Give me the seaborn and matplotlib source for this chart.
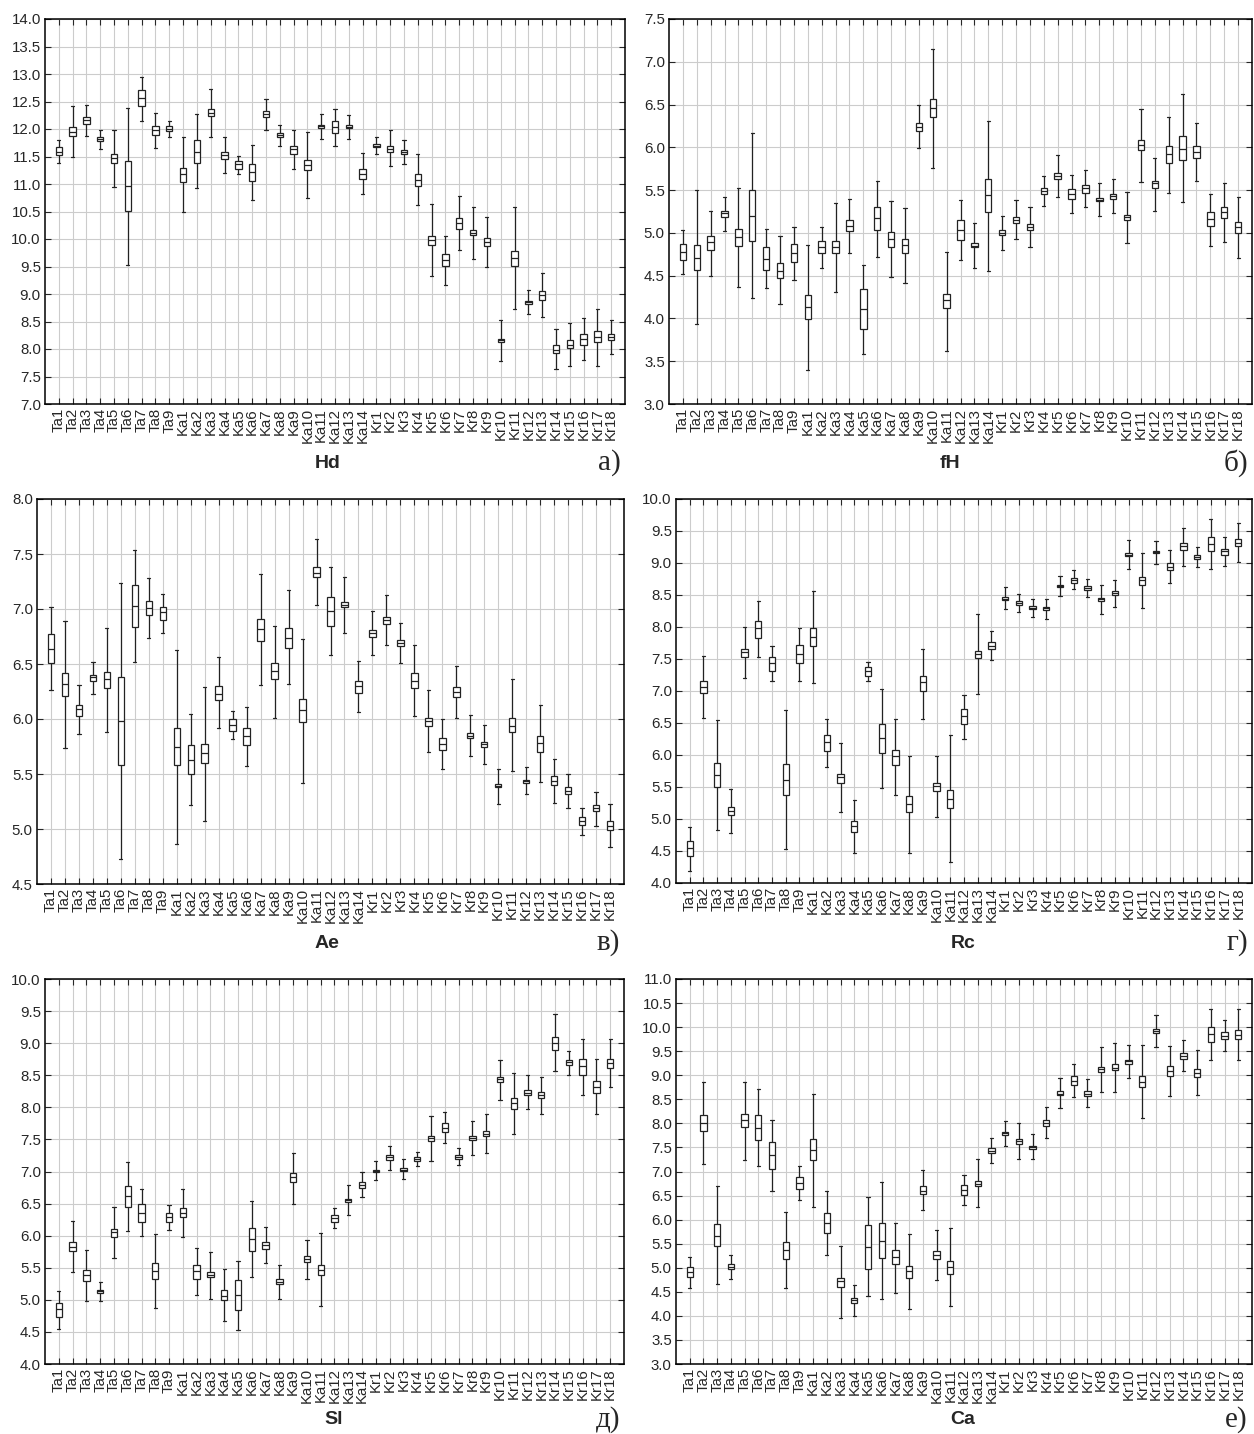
import pandas as pd
import matplotlib.pyplot as plt
import seaborn as sns
from matplotlib.ticker import FormatStrFormatter, MultipleLocator

# --------------------
# categories
# --------------------
sites = ([f"Ta{i}" for i in range(1, 10)] + [f"Ka{i}" for i in range(1, 15)]
         + [f"Kr{i}" for i in range(1, 19)])

# --------------------
# Hd  (whisker low, box low, median, box high, whisker high)
# --------------------
hd_lo = [11.38, 11.50, 11.87, 11.64, 10.95, 9.53, 12.15, 11.65, 11.85,
         10.50, 10.92, 11.86, 11.20, 11.19, 10.71, 11.99, 11.70, 11.27, 10.75, 11.82, 11.70, 11.82, 10.81,
         11.54, 11.32, 11.36, 10.61, 9.32, 9.17, 9.80, 9.64, 9.49, 7.79, 8.73, 8.63, 8.58, 7.63, 7.69, 7.80, 7.70, 7.91]
hd_q1 = [11.52, 11.87, 12.09, 11.78, 11.38, 10.51, 12.41, 11.90, 11.96,
         11.04, 11.38, 12.24, 11.46, 11.28, 11.05, 12.22, 11.85, 11.55, 11.25, 12.02, 11.92, 12.02, 11.10,
         11.68, 11.59, 11.55, 10.97, 9.90, 9.51, 10.19, 10.07, 9.88, 8.12, 9.51, 8.82, 8.89, 7.92, 8.01, 8.07, 8.12, 8.16]
hd_med = [11.59, 11.95, 12.16, 11.82, 11.47, 10.96, 12.56, 11.99, 12.00,
          11.18, 11.59, 12.29, 11.53, 11.36, 11.21, 12.28, 11.89, 11.63, 11.35, 12.05, 12.04, 12.04, 11.19,
          11.70, 11.64, 11.58, 11.07, 9.98, 9.62, 10.30, 10.11, 9.95, 8.16, 9.65, 8.85, 8.98, 7.99, 8.08, 8.18, 8.21, 8.21]
hd_q3 = [11.67, 12.04, 12.21, 11.86, 11.55, 11.41, 12.71, 12.05, 12.05,
         11.30, 11.80, 12.36, 11.59, 11.41, 11.36, 12.33, 11.92, 11.70, 11.43, 12.08, 12.15, 12.07, 11.27,
         11.73, 11.70, 11.62, 11.18, 10.05, 9.72, 10.39, 10.16, 10.01, 8.19, 9.78, 8.88, 9.06, 8.07, 8.16, 8.28, 8.32, 8.27]
hd_hi = [11.80, 12.41, 12.43, 11.99, 11.98, 12.39, 12.95, 12.30, 12.15,
         11.85, 12.27, 12.73, 11.86, 11.51, 11.71, 12.55, 12.08, 11.98, 11.94, 12.28, 12.37, 12.25, 11.56,
         11.86, 11.98, 11.80, 11.54, 10.64, 10.05, 10.79, 10.58, 10.40, 8.53, 10.58, 9.08, 9.38, 8.36, 8.48, 8.56, 8.72, 8.52]

# --------------------
# fH
# --------------------
fh_lo = [4.52, 3.94, 4.50, 5.02, 4.37, 4.24, 4.36, 4.17, 4.45,
         3.40, 4.59, 4.31, 4.76, 3.59, 4.72, 4.48, 4.42, 5.99, 5.76, 3.62, 4.68, 4.59, 4.55,
         4.80, 4.93, 4.84, 5.31, 5.42, 5.23, 5.30, 5.20, 5.23, 4.88, 5.60, 5.26, 5.47, 5.36, 5.61, 4.85, 4.89, 4.71]
fh_q1 = [4.68, 4.57, 4.80, 5.18, 4.85, 4.90, 4.57, 4.47, 4.66,
         3.99, 4.76, 4.76, 5.02, 3.88, 5.03, 4.84, 4.77, 6.19, 6.35, 4.12, 4.92, 4.83, 5.24,
         4.98, 5.12, 5.03, 5.45, 5.63, 5.40, 5.47, 5.37, 5.40, 5.15, 5.97, 5.53, 5.82, 5.85, 5.88, 5.08, 5.17, 5.00]
fh_med = [4.78, 4.71, 4.89, 5.23, 4.95, 5.20, 4.70, 4.56, 4.77,
          4.13, 4.84, 4.83, 5.08, 4.11, 5.17, 4.93, 4.86, 6.24, 6.46, 4.21, 5.03, 4.85, 5.44,
          5.00, 5.15, 5.07, 5.49, 5.67, 5.46, 5.52, 5.39, 5.43, 5.18, 6.03, 5.58, 5.92, 5.98, 5.95, 5.16, 5.24, 5.07]
fh_q3 = [4.87, 4.86, 4.96, 5.26, 5.05, 5.50, 4.83, 4.65, 4.87,
         4.27, 4.91, 4.90, 5.15, 4.34, 5.30, 5.01, 4.93, 6.29, 6.57, 4.29, 5.15, 4.88, 5.63,
         5.03, 5.19, 5.10, 5.53, 5.70, 5.51, 5.56, 5.41, 5.46, 5.21, 6.09, 5.61, 6.01, 6.13, 6.02, 5.24, 5.30, 5.13]
fh_hi = [5.03, 5.50, 5.26, 5.42, 5.53, 6.17, 5.05, 4.96, 5.07,
         4.86, 5.07, 5.35, 5.40, 4.62, 5.61, 5.37, 5.29, 6.49, 7.15, 4.78, 5.39, 5.12, 6.31,
         5.20, 5.38, 5.30, 5.67, 5.91, 5.68, 5.74, 5.58, 5.63, 5.48, 6.45, 5.88, 6.35, 6.62, 6.28, 5.45, 5.58, 5.42]

# --------------------
# Ae
# --------------------
ae_lo = [6.26, 5.74, 5.86, 6.23, 5.88, 4.73, 6.52, 6.74, 6.78,
         4.86, 5.22, 5.07, 5.92, 5.82, 5.57, 6.31, 6.01, 6.32, 5.42, 7.04, 6.58, 6.78, 6.06,
         6.58, 6.67, 6.51, 6.03, 5.70, 5.55, 6.01, 5.66, 5.59, 5.23, 5.53, 5.32, 5.43, 5.24, 5.19, 4.95, 5.03, 4.84]
ae_q1 = [6.51, 6.21, 6.03, 6.35, 6.28, 5.58, 6.84, 6.95, 6.90,
         5.58, 5.50, 5.60, 6.17, 5.89, 5.76, 6.71, 6.36, 6.65, 5.97, 7.29, 6.85, 7.02, 6.24,
         6.75, 6.86, 6.66, 6.28, 5.94, 5.72, 6.20, 5.83, 5.75, 5.38, 5.88, 5.42, 5.70, 5.40, 5.32, 5.04, 5.16, 4.99]
ae_med = [6.64, 6.32, 6.09, 6.38, 6.36, 5.98, 7.03, 7.01, 6.97,
          5.75, 5.63, 5.69, 6.23, 5.95, 5.85, 6.82, 6.44, 6.74, 6.08, 7.33, 6.98, 7.04, 6.30,
          6.78, 6.90, 6.69, 6.35, 5.98, 5.77, 6.25, 5.85, 5.77, 5.39, 5.94, 5.44, 5.78, 5.44, 5.35, 5.07, 5.19, 5.03]
ae_q3 = [6.77, 6.42, 6.13, 6.40, 6.43, 6.38, 7.22, 7.07, 7.02,
         5.92, 5.76, 5.77, 6.30, 6.00, 5.92, 6.91, 6.51, 6.83, 6.18, 7.38, 7.11, 7.06, 6.35,
         6.81, 6.93, 6.72, 6.42, 6.01, 5.83, 6.29, 5.87, 5.79, 5.41, 6.01, 5.45, 5.85, 5.48, 5.38, 5.11, 5.22, 5.07]
ae_hi = [7.02, 6.89, 6.31, 6.52, 6.83, 7.24, 7.54, 7.28, 7.14,
         6.63, 6.05, 6.29, 6.56, 6.07, 6.11, 7.32, 6.85, 7.17, 6.73, 7.64, 7.38, 7.29, 6.53,
         6.98, 7.13, 6.87, 6.67, 6.26, 6.00, 6.48, 6.04, 5.95, 5.55, 6.36, 5.56, 6.13, 5.64, 5.50, 5.19, 5.34, 5.23]

# --------------------
# Rc
# --------------------
rc_lo = [4.19, 6.58, 4.83, 4.78, 7.21, 7.53, 7.15, 4.53, 7.16,
         7.12, 5.81, 5.11, 4.47, 7.16, 5.48, 5.38, 4.47, 6.57, 5.03, 4.33, 6.25, 6.96, 7.48,
         8.28, 8.23, 8.16, 8.13, 8.48, 8.59, 8.47, 8.20, 8.31, 8.90, 8.29, 8.98, 8.68, 8.96, 8.94, 8.90, 8.95, 9.01]
rc_q1 = [4.42, 6.97, 5.50, 5.06, 7.53, 7.83, 7.32, 5.37, 7.43,
         7.71, 6.07, 5.57, 4.80, 7.24, 6.03, 5.85, 5.11, 7.00, 5.43, 5.17, 6.48, 7.52, 7.66,
         8.42, 8.35, 8.28, 8.26, 8.62, 8.69, 8.58, 8.40, 8.50, 9.11, 8.65, 9.15, 8.89, 9.20, 9.07, 9.19, 9.13, 9.27]
rc_med = [4.55, 7.06, 5.69, 5.13, 7.61, 7.98, 7.43, 5.61, 7.58,
          7.85, 6.20, 5.66, 4.89, 7.31, 6.26, 5.99, 5.23, 7.14, 5.51, 5.31, 6.61, 7.58, 7.71,
          8.44, 8.38, 8.30, 8.29, 8.64, 8.74, 8.61, 8.43, 8.53, 9.13, 8.73, 9.17, 8.94, 9.26, 9.10, 9.30, 9.18, 9.32]
rc_q3 = [4.66, 7.15, 5.87, 5.19, 7.66, 8.10, 7.53, 5.86, 7.72,
         7.98, 6.31, 5.71, 4.97, 7.37, 6.49, 6.08, 5.36, 7.23, 5.57, 5.46, 6.72, 7.63, 7.76,
         8.47, 8.40, 8.33, 8.32, 8.66, 8.77, 8.64, 8.45, 8.56, 9.15, 8.78, 9.19, 9.00, 9.32, 9.13, 9.41, 9.22, 9.37]
rc_hi = [4.88, 7.54, 6.54, 5.47, 8.00, 8.40, 7.70, 6.70, 7.98,
         8.56, 6.56, 6.18, 5.30, 7.45, 7.03, 6.56, 5.99, 7.66, 5.98, 6.31, 6.94, 8.20, 7.93,
         8.62, 8.52, 8.44, 8.44, 8.80, 8.89, 8.75, 8.66, 8.74, 9.36, 9.15, 9.35, 9.20, 9.54, 9.25, 9.69, 9.40, 9.63]

# --------------------
# Sl
# --------------------
sl_lo = [4.54, 5.44, 4.98, 4.98, 5.65, 6.08, 5.99, 4.87, 6.09,
         5.98, 5.08, 5.02, 4.67, 4.53, 5.35, 5.57, 5.02, 6.50, 5.32, 4.90, 6.12, 6.32, 6.60,
         6.87, 7.03, 6.89, 7.09, 7.17, 7.44, 7.10, 7.25, 7.29, 8.12, 7.58, 7.97, 7.90, 8.57, 8.50, 8.19, 7.90, 8.32]
sl_q1 = [4.73, 5.76, 5.29, 5.10, 5.98, 6.45, 6.22, 5.32, 6.22,
         6.29, 5.33, 5.35, 4.99, 4.84, 5.76, 5.80, 5.24, 6.83, 5.59, 5.39, 6.22, 6.53, 6.75,
         6.99, 7.18, 7.01, 7.17, 7.48, 7.62, 7.20, 7.49, 7.55, 8.40, 7.98, 8.20, 8.14, 8.90, 8.66, 8.50, 8.23, 8.62]
sl_med = [4.85, 5.83, 5.39, 5.13, 6.05, 6.62, 6.36, 5.45, 6.29,
          6.36, 5.45, 5.39, 5.06, 5.07, 5.95, 5.85, 5.28, 6.91, 5.64, 5.47, 6.27, 6.55, 6.79,
          7.01, 7.22, 7.03, 7.19, 7.52, 7.68, 7.23, 7.52, 7.59, 8.44, 8.06, 8.23, 8.19, 9.00, 8.70, 8.64, 8.32, 8.69]
sl_q3 = [4.95, 5.90, 5.47, 5.16, 6.11, 6.78, 6.49, 5.57, 6.36,
         6.43, 5.55, 5.43, 5.15, 5.31, 6.12, 5.90, 5.32, 6.98, 5.68, 5.55, 6.32, 6.57, 6.83,
         7.03, 7.25, 7.06, 7.22, 7.56, 7.75, 7.26, 7.55, 7.63, 8.47, 8.14, 8.27, 8.24, 9.10, 8.73, 8.75, 8.41, 8.76]
sl_hi = [5.14, 6.23, 5.78, 5.28, 6.44, 7.15, 6.72, 6.03, 6.48,
         6.73, 5.81, 5.75, 5.48, 5.61, 6.54, 6.13, 5.54, 7.29, 5.94, 6.04, 6.43, 6.79, 6.99,
         7.16, 7.39, 7.19, 7.30, 7.87, 7.92, 7.37, 7.78, 7.89, 8.74, 8.54, 8.50, 8.48, 9.45, 8.88, 9.06, 8.75, 9.07]

# --------------------
# Ca
# --------------------
ca_lo = [4.58, 7.16, 4.66, 4.77, 7.24, 7.11, 6.60, 4.57, 6.41,
         6.27, 5.27, 3.96, 4.00, 4.41, 4.35, 4.48, 4.14, 6.20, 4.74, 4.21, 6.30, 6.26, 7.18,
         7.53, 7.25, 7.25, 7.70, 8.31, 8.54, 8.33, 8.66, 8.66, 8.95, 8.11, 9.58, 8.57, 9.09, 8.58, 9.32, 9.50, 9.32]
ca_q1 = [4.80, 7.85, 5.45, 4.97, 7.92, 7.66, 7.06, 5.19, 6.64,
         7.23, 5.72, 4.60, 4.26, 4.97, 5.20, 5.08, 4.79, 6.53, 5.19, 4.88, 6.52, 6.70, 7.38,
         7.75, 7.57, 7.47, 7.95, 8.59, 8.79, 8.56, 9.07, 9.10, 9.24, 8.76, 9.87, 8.98, 9.34, 8.96, 9.70, 9.76, 9.75]
ca_med = [4.92, 8.01, 5.67, 5.02, 8.06, 7.91, 7.34, 5.37, 6.76,
          7.45, 5.93, 4.72, 4.32, 5.44, 5.56, 5.22, 4.93, 6.60, 5.27, 5.01, 6.62, 6.75, 7.43,
          7.79, 7.63, 7.51, 8.01, 8.62, 8.89, 8.62, 9.12, 9.16, 9.29, 8.87, 9.92, 9.09, 9.41, 9.05, 9.85, 9.82, 9.84]
ca_q3 = [5.02, 8.17, 5.90, 5.07, 8.20, 8.17, 7.62, 5.54, 6.88,
         7.67, 6.13, 4.79, 4.37, 5.88, 5.92, 5.36, 5.04, 6.70, 5.34, 5.13, 6.71, 6.80, 7.49,
         7.82, 7.68, 7.54, 8.07, 8.67, 8.98, 8.68, 9.17, 9.23, 9.32, 8.98, 9.96, 9.19, 9.47, 9.14, 10.00, 9.89, 9.94]
ca_hi = [5.23, 8.86, 6.69, 5.26, 8.87, 8.72, 8.08, 6.16, 7.11,
         8.62, 6.59, 5.45, 4.64, 6.46, 6.78, 5.94, 5.70, 7.03, 5.79, 5.82, 6.93, 7.25, 7.70,
         8.04, 8.00, 7.77, 8.33, 8.94, 9.24, 8.92, 9.58, 9.66, 9.62, 9.62, 10.25, 9.60, 9.73, 9.52, 10.38, 10.14, 10.38]


def long_frame(lo, q1, med, q3, hi):
    # five points per site give exactly these quartiles and whisker ends
    rows = []
    for s, vals in zip(sites, zip(lo, q1, med, q3, hi)):
        for v in vals:
            rows.append((s, v))
    return pd.DataFrame(rows, columns=["site", "value"])


sns.set_style("whitegrid", {"grid.color": "#cccccc", "axes.edgecolor": "black"})
plt.rcParams["font.family"] = ["Liberation Sans", "DejaVu Sans"]

fig = plt.figure(figsize=(12.54, 14.34), dpi=100)
W, H = 1254, 1434

# name, letter, data, y range, axes box in px (left, top, right, bottom), name x, label y
panels = [
    ("Hd", "а)", (hd_lo, hd_q1, hd_med, hd_q3, hd_hi), (7.0, 14.0), (45, 19, 625, 404), 328, 463),
    ("fH", "б)", (fh_lo, fh_q1, fh_med, fh_q3, fh_hi), (3.0, 7.5), (669, 19, 1252, 404), 950, 463),
    ("Ae", "в)", (ae_lo, ae_q1, ae_med, ae_q3, ae_hi), (4.5, 8.0), (37, 499, 624, 884), 327, 943),
    ("Rc", "г)", (rc_lo, rc_q1, rc_med, rc_q3, rc_hi), (4.0, 10.0), (676, 499, 1252, 883), 963, 943),
    ("Sl", "д)", (sl_lo, sl_q1, sl_med, sl_q3, sl_hi), (4.0, 10.0), (45, 979, 624, 1364), 334, 1420),
    ("Ca", "е)", (ca_lo, ca_q1, ca_med, ca_q3, ca_hi), (3.0, 11.0), (676, 979, 1252, 1364), 963, 1420),
]

for name, letter, stats, ylim, box, name_x, label_y in panels:
    l, t, r, b = box
    ax = fig.add_axes([l / W, 1 - b / H, (r - l) / W, (b - t) / H])
    df = long_frame(*stats)
    sns.boxplot(data=df, x="site", y="value", order=sites, ax=ax,
                whis=(0, 100), width=0.46, color="white", linecolor="#222222",
                linewidth=0.9, fliersize=0)
    ax.set_xlim(-1, len(sites))
    ax.set_ylim(*ylim)
    ax.yaxis.set_major_locator(MultipleLocator(0.5))
    ax.yaxis.set_major_formatter(FormatStrFormatter("%.1f"))
    ax.set_xlabel("")
    ax.set_ylabel("")
    ax.grid(True, color="#cccccc", linewidth=0.8)
    ax.tick_params(axis="x", labelrotation=90, labelsize=10.8, direction="in",
                   length=4, top=True, bottom=True, pad=3)
    ax.tick_params(axis="y", labelsize=10.8, direction="in", length=4,
                   left=True, right=True, pad=3)
    for sp in ax.spines.values():
        sp.set_color("black")
        sp.set_linewidth(1.1)
    fig.text(name_x / W, 1 - label_y / H, name, ha="center", va="center",
             fontsize=14, fontweight="bold")
    fig.text((r - 4) / W, 1 - label_y / H, letter, ha="right", va="center",
             fontsize=21, family=["Liberation Serif", "DejaVu Serif"])

plt.savefig("out.png", dpi=100)
plt.close()
